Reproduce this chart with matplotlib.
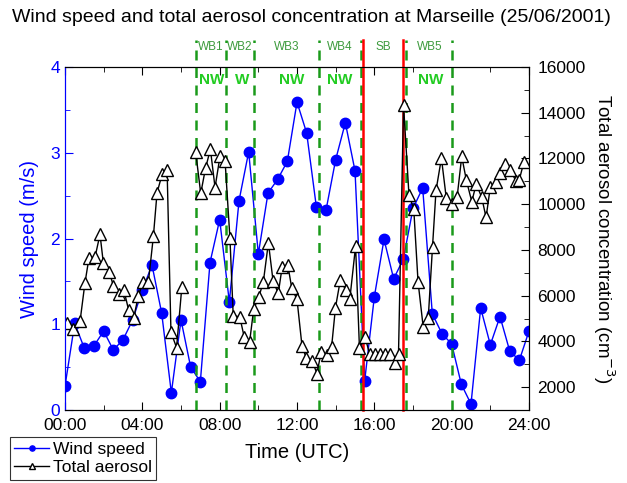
import numpy as np
import matplotlib
matplotlib.use("Agg")
import matplotlib.pyplot as plt
from matplotlib.ticker import MultipleLocator, FuncFormatter

plt.rcParams['font.family'] = ['Liberation Sans', 'DejaVu Sans']

# wind speed (m/s), every 30 min from 00:00 to 24:00
ws_time = [i * 0.5 for i in range(49)]
ws = [0.28, 1.01, 0.72, 0.75, 0.92, 0.70, 0.82, 1.05, 1.40, 1.69,
      1.13, 0.20, 1.05, 0.50, 0.33, 1.72, 2.22, 1.26, 2.44, 3.01,
      1.82, 2.53, 2.69, 2.90, 3.59, 3.23, 2.37, 2.33, 2.92, 3.35,
      2.79, 0.34, 1.32, 1.99, 1.53, 1.76, 2.35, 2.59, 1.12, 0.89,
      0.77, 0.30, 0.07, 1.19, 0.76, 1.09, 0.69, 0.58, 0.92]

# total aerosol concentration (cm-3)
aer_time = [0.12, 0.43, 0.78, 1.03, 1.24, 1.55, 1.81, 1.98, 2.29, 2.50,
            2.78, 3.05, 3.29, 3.55, 3.79, 4.03, 4.31, 4.57, 4.76, 5.02,
            5.28, 5.48, 5.77, 6.04, 6.40,
            6.76, 7.02, 7.27, 7.52, 7.76, 8.02, 8.28, 8.53, 8.70, 9.04,
            9.27, 9.55, 9.76, 10.02, 10.26, 10.52, 10.76, 11.03, 11.23, 11.52,
            11.73, 12.00, 12.26, 12.48, 12.79, 13.03, 13.25, 13.54, 13.79, 13.99,
            14.24, 14.51, 14.73, 15.03, 15.23, 15.52, 15.75, 16.02, 16.29, 16.55,
            16.81, 17.07, 17.25, 17.51, 17.79, 18.04, 18.26, 18.53, 18.79, 19.01,
            19.19, 19.47, 19.72, 20.02, 20.28, 20.52, 20.76, 21.04, 21.27, 21.55,
            21.78, 22.00, 22.27, 22.52, 22.78, 23.03, 23.33, 23.50, 23.73]
aer = [4800, 4550, 4900, 6550, 7650, 7680, 8680, 7450, 7050, 6430,
       6090, 6230, 5370, 5020, 5980, 6580, 6580, 8590, 10500, 11300,
       11510, 4400, 3730, 6360, np.nan,
       12274, 10470, 11583, 12400, 10730, 12110, 11885, 8520, 5130, 5070,
       4187, 3990, 5422, 5926, 6615, 8317, 6652, 6100, 7245, 7360,
       6320, 5835, 3783, 3280, 3137, 2596, 3535, 3391, 3770, 5478,
       6683, 6270, 5835, 8174, 3700, 4187, 3470, 3470, 3470, 3470,
       3470, 3045, 3465, 14335, 10420, 9770, 6615, 4609, 5043, 8150,
       10600, 12013, 10275, 10000, 10300, 12087, 11050, 10110, 10883, 10310,
       9420, 10760, 10960, 11360, 11740, 11509, 11000, 11074, 11830]

# air mass periods
green_lines = [6.78, 8.33, 9.78, 13.15, 15.29, 17.64, 20.0]
red_lines = [15.43, 17.50]
period_labels = ["WB1", "WB2", "WB3", "WB4", "SB", "WB5"]
period_pos = [7.55, 9.05, 11.45, 14.2, 16.45, 18.85]
wind_dir = ["NW", "W", "NW", "NW", "NW"]
wind_dir_pos = [7.6, 9.15, 11.7, 14.2, 18.9]

fig = plt.figure(figsize=(6.27, 4.83), dpi=100)
ax = fig.add_axes([0.1037, 0.1511, 0.74, 0.7102])
ax2 = ax.twinx()

l1, = ax.plot(ws_time, ws, color='blue', lw=1, marker='o', ms=7.5,
              mec='blue', mfc='blue', label='Wind speed')
l2, = ax2.plot(aer_time, aer, color='black', lw=1, marker='^', ms=9,
               mec='black', mfc='white', mew=1, label='Total aerosol')

for t in green_lines:
    ax.axvline(t, ymin=0, ymax=1.079, color='#1a9a1a', lw=1.8,
               ls=(0, (4, 3)), clip_on=False, zorder=5)
for t in red_lines:
    ax.axvline(t, ymin=0, ymax=1.079, color='red', lw=1.8,
               clip_on=False, zorder=6)

for lab, t in zip(period_labels, period_pos):
    ax.text(t, 1.058, lab, transform=ax.get_xaxis_transform(), ha='center',
            va='center', color='#3c9a3c', fontsize=8.5)
for lab, t in zip(wind_dir, wind_dir_pos):
    ax.text(t, 0.962, lab, transform=ax.get_xaxis_transform(), ha='center',
            va='center', color='#22cc22', fontsize=11, fontweight='bold')

ax.set_xlim(0, 24)
ax.set_ylim(0, 4)
ax2.set_ylim(1000, 16000)
ax2.set_zorder(ax.get_zorder() + 1)
ax2.patch.set_visible(False)

ax.xaxis.set_major_locator(MultipleLocator(4))
ax.xaxis.set_minor_locator(MultipleLocator(2))
ax.xaxis.set_major_formatter(FuncFormatter(lambda v, p: "%02d:00" % int(v)))
ax.yaxis.set_major_locator(MultipleLocator(1))
ax.yaxis.set_minor_locator(MultipleLocator(0.5))
ax2.yaxis.set_major_locator(MultipleLocator(2000))
ax2.yaxis.set_minor_locator(MultipleLocator(1000))
ax2.set_yticks(range(2000, 16001, 2000))

ax.tick_params(axis='x', which='both', direction='in', top=True, labelsize=12.5, pad=6)
ax.tick_params(axis='x', which='major', length=6)
ax.tick_params(axis='x', which='minor', length=3.5)
ax.tick_params(axis='y', which='both', direction='in', colors='blue', labelsize=12.5)
ax.tick_params(axis='y', which='major', length=6)
ax.tick_params(axis='y', which='minor', length=3.5)
ax2.tick_params(axis='y', which='both', direction='in', labelsize=12.5, pad=6)
ax2.tick_params(axis='y', which='major', length=6)
ax2.tick_params(axis='y', which='minor', length=3.5)

ax.spines['left'].set_color('blue')
ax2.spines['left'].set_color('blue')

ax.set_xlabel("Time (UTC)", fontsize=14.5, labelpad=7)
ax.set_ylabel("Wind speed (m/s)", fontsize=14.5, color='blue', labelpad=8)
ax2.set_ylabel("Total aerosol concentration (cm$^{-3}$)", fontsize=13.5,
               rotation=270, labelpad=22)

fig.text(0.497, 0.963, "Wind speed and total aerosol concentration at Marseille (25/06/2001)",
         ha='center', va='center', fontsize=14)

leg = fig.legend(handles=[l1, l2], loc='upper left', bbox_to_anchor=(0.016, 0.095),
                 fontsize=12.5, frameon=True, fancybox=False, edgecolor='black',
                 markerscale=0.5, handlelength=2.0, borderpad=0.25, labelspacing=0.2,
                 handletextpad=0.2, borderaxespad=0)
leg.get_frame().set_linewidth(0.8)

fig.savefig("out.png", dpi=100)
